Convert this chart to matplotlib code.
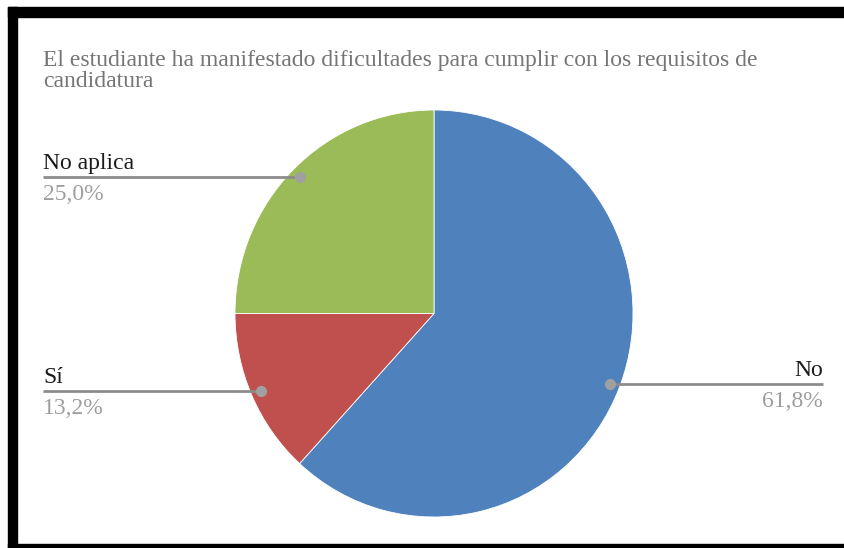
import numpy as np
import matplotlib.pyplot as plt

labels = ["No", "Sí", "No aplica"]
values = [61.8, 13.2, 25.0]
pct_labels = ["61,8%", "13,2%", "25,0%"]
colors = ["#4f81bd", "#c0504d", "#9bbb59"]
title = "El estudiante ha manifestado dificultades para cumplir con los requisitos de\ncandidatura"

W, H = 845, 548
plt.rcParams["font.family"] = ["Liberation Serif", "DejaVu Serif"]

fig = plt.figure(figsize=(W / 100, H / 100), dpi=100)
ax = fig.add_axes([0, 0, 1, 1])
ax.set_xlim(0, W)
ax.set_ylim(0, H)
ax.set_axis_off()

# pie box in pixels (the screenshot is slightly stretched vertically)
cx, cy, rx, ry = 434, 313.5, 199, 203.5
pax = fig.add_axes([(cx - rx) / W, 1 - (cy + ry) / H, 2 * rx / W, 2 * ry / H])
wedges, _ = pax.pie(values, colors=colors, startangle=90, counterclock=False,
                    radius=1, wedgeprops=dict(linewidth=0.6, edgecolor="white"))
pax.set_aspect("auto")
pax.set_xlim(-1, 1)
pax.set_ylim(-1, 1)
pax.set_axis_off()
pax.set_zorder(1)
ax.set_zorder(2)  # leader lines and labels above the pie

# frame like the screenshot
ax.add_patch(plt.Rectangle((8, H - 17), W - 8, 10, color="black", clip_on=False))
ax.add_patch(plt.Rectangle((8, 0), 9, H - 7, color="black", clip_on=False))
ax.add_patch(plt.Rectangle((8, 0), W - 8, 4, color="black", clip_on=False))

# va=baseline puts the last line's baseline at y
ax.text(43, H - 87, title, fontsize=17, color="#757575", va="baseline",
        ha="left", linespacing=1.0)

for w, lab, pct in zip(wedges, labels, pct_labels):
    mid = np.deg2rad((w.theta1 + w.theta2) / 2)
    dx = cx + 0.95 * rx * np.cos(mid)
    dy = H - (cy - 0.95 * ry * np.sin(mid))
    if np.cos(mid) < 0:
        xe, ha = 43, "left"
    else:
        xe, ha = 823, "right"
    ax.plot([dx, xe], [dy, dy], color="#8c8c8c", lw=2, solid_capstyle="butt", zorder=3)
    ax.plot(dx, dy, "o", color="#a0a0a0", ms=7, zorder=4)
    ax.text(xe, dy + 8, lab, fontsize=17, color="#1a1a1a", ha=ha, va="baseline")
    ax.text(xe, dy - 23, pct, fontsize=17, color="#9e9e9e", ha=ha, va="baseline")

fig.savefig("out.png", dpi=100)
